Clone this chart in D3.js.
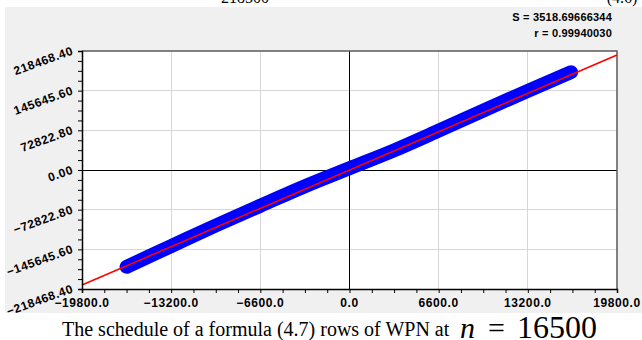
<!DOCTYPE html>
<html>
<head>
<meta charset="utf-8">
<script src="https://cdn.jsdelivr.net/npm/d3@7"></script>
<style>
  html, body { margin: 0; padding: 0; background: #fff; }
  svg { display: block; }
  .tick-label { font-family: "Liberation Sans", Arial, sans-serif; font-weight: bold; font-size: 12px; letter-spacing: 0.6px; fill: #000; }
  .stat-label { font-family: "Liberation Sans", Arial, sans-serif; font-weight: bold; font-size: 11px; letter-spacing: 0.2px; fill: #000; }
  .caption { font-family: "Liberation Serif", "Times New Roman", serif; fill: #000; }
</style>
</head>
<body>
<svg id="chart" width="642" height="340"></svg>
<script>
// tick labels of the axes
const xTicks = [-19800, -13200, -6600, 0, 6600, 13200, 19800];
const yTicks = [-218468.4, -145645.6, -72822.8, 0, 72822.8, 145645.6, 218468.4];

// centre of the blue band of points
const bandX = [-16500, -13200, -9900, -6600, -3300, 0, 3300, 6600, 9900, 13200, 16400];
const bandY = [-177700, -139800, -101900, -65600, -29700, 3300, 36100, 72200, 109200, 145300, 179600];

// regression line and its statistics
const fitSlope = 10.66;
const fitIntercept = 0;
const statS = '3518.69666344';
const statR = '0.99940030';
const nValue = '16500';

const svg = d3.select('#chart');

// grey panel behind the plot
svg.append('rect')
  .attr('x', 5).attr('y', 7)
  .attr('width', 637).attr('height', 306)
  .attr('fill', '#f0f0f0');

// clipped heading leftovers at the very top
svg.append('text').attr('class', 'caption')
  .attr('x', 245).attr('y', 3).attr('text-anchor', 'middle')
  .attr('font-size', 16).text('218500');
svg.append('text').attr('class', 'caption')
  .attr('x', 622).attr('y', 3).attr('text-anchor', 'middle')
  .attr('font-size', 16).text('(4.6)');

const x = d3.scaleLinear().domain([xTicks[0], xTicks[xTicks.length - 1]]).range([82, 617]);
const y = d3.scaleLinear().domain([yTicks[0], yTicks[yTicks.length - 1]]).range([289, 51]);

// plot background
svg.append('rect')
  .attr('x', x.range()[0]).attr('y', y.range()[1])
  .attr('width', x.range()[1] - x.range()[0])
  .attr('height', y.range()[0] - y.range()[1])
  .attr('fill', '#fff');

// grid
const grid = svg.append('g').attr('shape-rendering', 'crispEdges');
grid.selectAll('line.gx')
  .data(xTicks.filter(d => d !== 0 && d !== xTicks[0] && d !== xTicks[xTicks.length - 1]))
  .join('line')
  .attr('x1', d => x(d)).attr('x2', d => x(d))
  .attr('y1', y.range()[0]).attr('y2', y.range()[1])
  .attr('stroke', '#d6d6d6').attr('stroke-width', 1);
grid.selectAll('line.gy')
  .data(yTicks.filter(d => d !== 0 && d !== yTicks[0] && d !== yTicks[yTicks.length - 1]))
  .join('line')
  .attr('y1', d => y(d)).attr('y2', d => y(d))
  .attr('x1', x.range()[0]).attr('x2', x.range()[1])
  .attr('stroke', '#d6d6d6').attr('stroke-width', 1);

// zero lines
grid.append('line')
  .attr('x1', x(0)).attr('x2', x(0))
  .attr('y1', y.range()[0]).attr('y2', y.range()[1])
  .attr('stroke', '#000').attr('stroke-width', 1);
grid.append('line')
  .attr('y1', y(0)).attr('y2', y(0))
  .attr('x1', x.range()[0]).attr('x2', x.range()[1])
  .attr('stroke', '#000').attr('stroke-width', 1);

// frame: top and right in dark grey
svg.append('path')
  .attr('d', `M${x.range()[0]},${y.range()[1]}H${x.range()[1]}V${y.range()[0]}`)
  .attr('fill', 'none').attr('stroke', '#5a5a5a').attr('stroke-width', 1.5);

// blue band of points
const band = bandX.map((d, i) => [d, bandY[i]]);
svg.append('path')
  .datum(band)
  .attr('d', d3.line().x(d => x(d[0])).y(d => y(d[1])).curve(d3.curveMonotoneX))
  .attr('fill', 'none')
  .attr('stroke', '#0000ff')
  .attr('stroke-width', 14)
  .attr('stroke-linecap', 'round')
  .attr('stroke-linejoin', 'round');

// red regression line
svg.append('line')
  .attr('x1', x(xTicks[0])).attr('y1', y(fitSlope * xTicks[0] + fitIntercept))
  .attr('x2', x(xTicks[xTicks.length - 1])).attr('y2', y(fitSlope * xTicks[xTicks.length - 1] + fitIntercept))
  .attr('stroke', '#ff0000').attr('stroke-width', 1.6);

// minor tick positions: four steps between labelled ticks
const subdivide = ticks => ticks.slice(0, -1).flatMap((t, i) => d3.range(4).map(k => t + (ticks[i + 1] - t) * k / 4)).concat(ticks[ticks.length - 1]);

const xAxis = svg.append('g')
  .attr('transform', `translate(0,${y.range()[0]})`)
  .call(d3.axisBottom(x).tickValues(subdivide(xTicks)).tickSize(4).tickFormat(''));
const yAxis = svg.append('g')
  .attr('transform', `translate(${x.range()[0]},0)`)
  .call(d3.axisLeft(y).tickValues(subdivide(yTicks)).tickSize(4).tickFormat(''));
[xAxis, yAxis].forEach(a => {
  a.select('.domain').attr('stroke', '#000').attr('stroke-width', 1.5);
  a.selectAll('.tick line').attr('stroke', '#000');
});

// x labels
svg.append('g').selectAll('text')
  .data(xTicks)
  .join('text')
  .attr('class', 'tick-label')
  .attr('x', d => x(d))
  .attr('y', 307)
  .attr('text-anchor', 'middle')
  .text(d => d3.format('.1f')(d));

// y labels, tilted
svg.append('g').selectAll('text')
  .data(yTicks)
  .join('text')
  .attr('class', 'tick-label')
  .attr('transform', d => `translate(74,${y(d) + 3}) rotate(-20)`)
  .attr('text-anchor', 'end')
  .text(d => d3.format('.2f')(d));

// statistics
svg.append('text').attr('class', 'stat-label')
  .attr('x', 612).attr('y', 21).attr('text-anchor', 'end')
  .text(`S = ${statS}`);
svg.append('text').attr('class', 'stat-label')
  .attr('x', 612).attr('y', 37).attr('text-anchor', 'end')
  .text(`r = ${statR}`);

// caption
svg.append('text').attr('class', 'caption')
  .attr('x', 62).attr('y', 336).attr('font-size', 20)
  .text('The schedule of a formula (4.7) rows of WPN at');
svg.append('text').attr('class', 'caption')
  .attr('x', 460).attr('y', 338).attr('font-size', 30).attr('font-style', 'italic')
  .text('n');
svg.append('text').attr('class', 'caption')
  .attr('x', 488).attr('y', 338).attr('font-size', 30)
  .text('=');
svg.append('text').attr('class', 'caption')
  .attr('x', 517).attr('y', 338).attr('font-size', 32)
  .text(nValue);
</script>
</body>
</html>
